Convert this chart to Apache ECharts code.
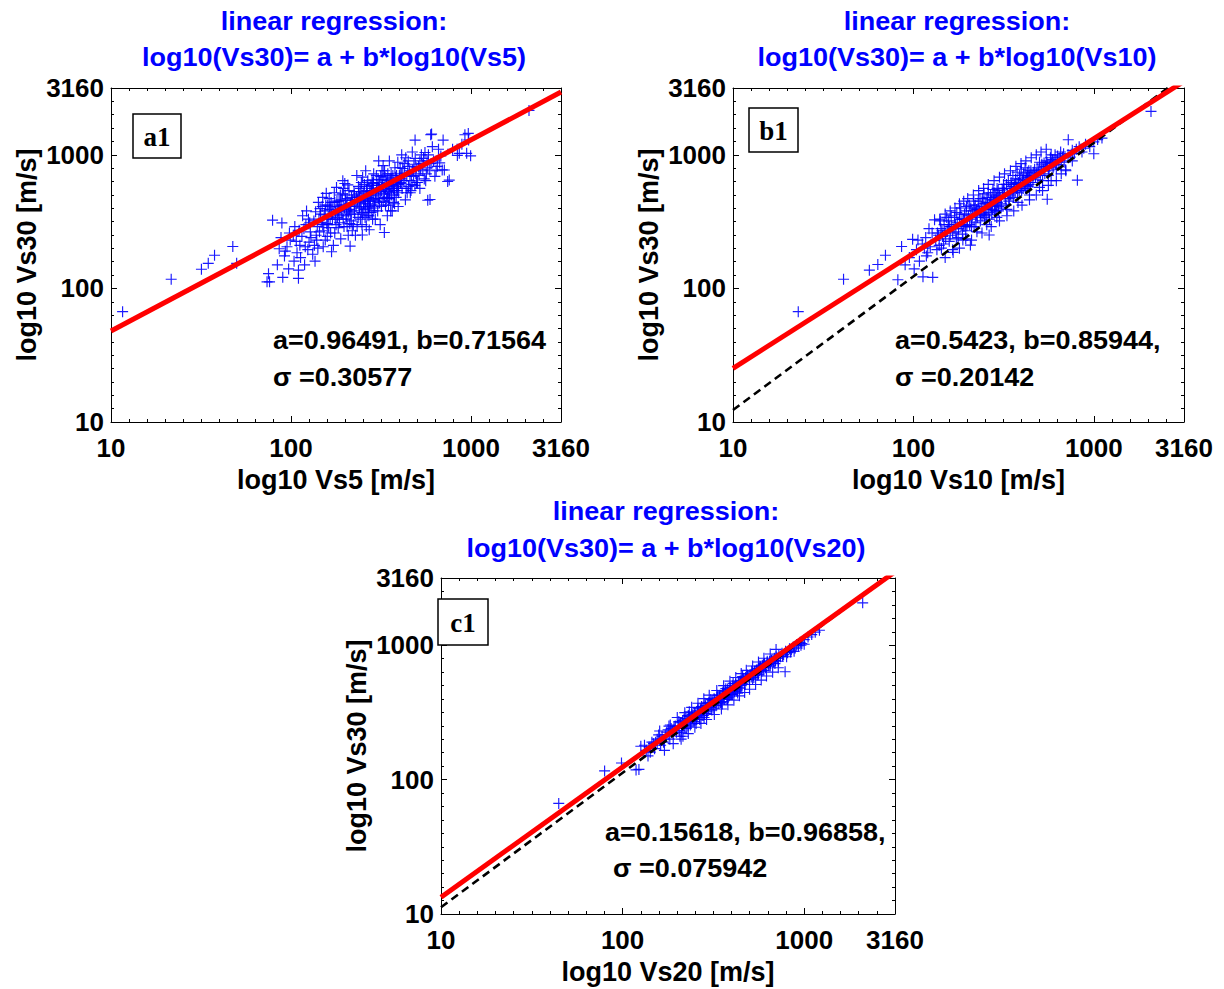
<!DOCTYPE html>
<html><head><meta charset="utf-8">
<script src="https://cdn.jsdelivr.net/npm/echarts@6/dist/echarts.min.js"></script>
<style>html,body{margin:0;padding:0;background:#fff}#c{width:1224px;height:989px}</style>
</head><body><div id="c"></div>
<script>
// ---------------- data ----------------
const tickValues = [1, 2, 3, 3.5];            // log10 positions of labelled ticks
const tickLabels = ['10', '100', '1000', '3160'];
const panelNames = ['a1', 'b1', 'c1'];
const xNames = ['log10 Vs5 [m/s]', 'log10 Vs10 [m/s]', 'log10 Vs20 [m/s]'];
const yName = 'log10 Vs30 [m/s]';
const titleLine1 = 'linear regression:';
const titleLine2 = ['log10(Vs30)= a + b*log10(Vs5)', 'log10(Vs30)= a + b*log10(Vs10)', 'log10(Vs30)= a + b*log10(Vs20)'];
const coefA = [0.96491, 0.5423, 0.15618];
const coefB = [0.71564, 0.85944, 0.96858];
const annotLine1 = ['a=0.96491, b=0.71564', 'a=0.5423, b=0.85944,', 'a=0.15618, b=0.96858,'];
const annotLine2 = ['σ =0.30577', 'σ =0.20142', 'σ =0.075942'];
const refLineOffset = [null, 0.09, 0.05];      // dashed reference line: log10(Vs30) = log10(Vsz) + offset

// [Vs5, Vs30] in m/s
const vs5Vs30 = [
[11.6,67],[21.6,117],[31.8,139],[34.7,154],[37.6,177],[47.5,206],[49.9,154],[73.6,112],
[76,112],[75,129],[79,324],[89,309],[90,121],[84,150],[92,175],[95,205],[97,140],[88,240],[98,260],[93,190],[99,230],[86,198],
[110,119],[110,137],[104,160],[108,185],[112,210],[115,245],[118,280],[121,300],[125,330],[103,250],[107,225],[113,170],[119,150],[124,195],[128,265],[116,350],[122,380],[126,222],[105,290],[129,240],[111,272],[120,205],[127,310],
[132,180],[135,210],[138,250],[140,290],[143,330],[146,360],[149,410],[152,270],[155,230],[158,305],[161,345],[164,390],[167,440],[134,320],[137,375],[141,200],[144,265],[147,312],[150,480],[153,355],[156,420],[159,245],[162,285],[165,330],[168,188],[136,160],[145,395],[157,515],[163,470],[139,230],[151,205],[166,260],[142,440],
[172,210],[175,260],[178,300],[181,340],[184,380],[187,420],[190,460],[193,510],[196,560],[199,610],[202,330],[205,290],[208,250],[211,390],[214,430],[217,480],[174,520],[180,450],[186,310],[192,360],[198,400],[204,350],[210,540],[216,320],[177,370],[183,285],[189,235],[195,330],[201,455],[207,595],[213,207],[219,270],[171,400],[179,570],[194,640],[209,372],[188,500],[203,410],[215,360],[176,330],[182,410],[197,290],[212,305],[168,360],
[222,300],[226,360],[230,410],[234,460],[238,510],[242,560],[246,620],[250,680],[254,390],[258,340],[262,290],[266,430],[270,480],[274,530],[278,590],[282,650],[286,380],[224,530],[228,250],[232,700],[236,340],[240,400],[244,450],[248,300],[252,520],[256,600],[260,760],[264,350],[268,400],[272,275],[276,450],[280,500],[284,330],[288,720],[225,420],[237,580],[247,370],[257,470],[263,540],[273,410],[283,560],[289,460],[231,480],[243,330],[253,430],[267,640],[279,370],[287,610],[233,290],[259,410],[249,251],[271,350],
[292,400],[296,450],[300,500],[305,560],[310,620],[315,690],[320,760],[325,830],[330,262],[335,420],[340,470],[345,530],[350,590],[355,650],[360,720],[365,380],[370,440],[375,500],[294,330],[303,380],[313,300],[323,600],[333,680],[343,350],[353,470],[363,560],[373,620],[378,800],[298,700],[308,470],[318,410],[328,510],[338,580],[348,420],[358,380],[368,700],[299,560],[319,540],[341,640],[361,500],[376,430],[307,900],[331,760],[352,900],[372,560],
[384,480],[390,540],[396,600],[402,660],[410,720],[418,790],[426,860],[434,950],[442,520],[450,580],[458,640],[466,700],[474,770],[482,850],[490,940],[498,620],[386,700],[394,410],[404,800],[414,560],[424,640],[432,460],[440,690],[448,900],[456,760],[464,540],[472,1050],[480,690],[488,590],[496,800],[392,880],[408,620],[428,730],[446,820],[470,600],[494,720],[412,1000],[436,560],[489,1288],[460,520],
[505,620],[515,700],[525,780],[535,860],[545,940],[555,1040],[565,720],[575,800],[592,463],[604,1429],[520,900],[540,760],[560,640],[580,1000],[600,860],[620,900],[640,760],[660,1100],[680,980],[700,1288],[511,820],[530,1000],[550,660],[570,900],[590,770],[610,1150],[630,690],[650,820],[670,870],[692,771],[742,631],[711,769],[757,647],[597,1413],[575,457],[520,560],
[840,990],[861,1026],[925,1413],[946,1026],[966,1445],[995,982],[970,1290],[790,1100],[890,1200],[2100,2150],
[155,380],[160,300],[170,330],[185,350],[195,420],[205,380],[215,410],[225,380],[235,440],[245,400],[255,460],[265,500],[275,420],[285,470],[295,520],[305,470],[315,530],[325,450],[335,550],[345,480],[355,560],[365,600],[375,540],[385,580],[395,520],[405,610],
[160,420],[175,440],[190,390],[200,500],[220,460],[240,490],[260,450],[280,540],[300,590],[320,650],[340,610],[360,660],[380,680],[400,700],[150,300],[165,410],[185,450],[205,470],[225,500],[245,530],[265,580],[285,620],[305,650],[325,700],[345,720],
[250,360],[270,370],[290,420],[310,440],[330,480],[350,520],[370,590],[390,640],[410,660]
];

// [Vs10, Vs30] in m/s
const vs10Vs30 = [
[23,67],[41,117],[57,137],[63.5,151],[70,177],
[86,206],[82,116],[99,233],[113,122],[128,121],[131,326],[90,150],[95,170],[104,195],[108,160],[112,215],[117,240],[120,185],[124,205],[127,260],[106,230],[118,175],[122,280],[101,140],[115,200],
[133,230],[136,260],[139,210],[142,280],[145,245],[148,300],[151,235],[154,270],[157,320],[160,250],[163,290],[166,186],[169,340],[172,265],[175,310],[178,280],[181,360],[184,300],[187,255],[190,330],[193,290],[196,380],[199,320],[135,195],[141,320],[147,215],[153,340],[159,290],[165,260],[171,300],[177,240],[183,400],[189,290],[195,270],[138,250],[144,270],[150,260],[156,300],[162,350],[168,280],[174,370],[180,330],[186,330],[192,360],[198,295],[143,200],[158,225],[173,235],[188,230],[197,410],
[202,350],[205,300],[207,211],[208,400],[211,330],[214,380],[217,290],[220,420],[223,360],[226,340],[229,450],[232,380],[235,320],[238,410],[241,470],[244,360],[247,400],[250,430],[253,350],[256,480],[259,400],[262,370],[263,251],[265,440],[268,500],[271,410],[274,390],[277,460],[280,520],[283,420],[286,380],[289,480],[292,440],[295,540],[298,410],[204,420],[210,290],[216,450],[222,310],[228,390],[234,470],[240,350],[246,510],[252,390],[258,440],[264,330],[270,460],[276,550],[282,380],[288,420],[294,470],[300,500],[212,360],[224,390],[236,360],[248,340],[260,520],[272,360],[284,490],[296,380],[219,400],[243,430],[267,420],[291,560],
[303,480],[308,430],[313,520],[318,560],[323,470],[328,600],[333,510],[338,450],[343,560],[348,620],[353,530],[358,480],[363,600],[368,660],[373,560],[378,520],[383,620],[388,700],[393,580],[398,540],[403,650],[408,720],[413,600],[418,560],[423,680],[428,740],[433,640],[438,600],[443,700],[448,760],[306,400],[316,600],[326,420],[336,640],[346,500],[356,700],[366,520],[376,740],[386,540],[396,780],[406,560],[416,800],[426,590],[436,760],[446,620],[320,520],[340,470],[360,560],[380,600],[400,600],[420,640],[440,680],[350,580],[390,660],[430,700],[311,545],[371,610],[431,580],
[455,700],[465,740],[475,680],[485,800],[495,760],[505,700],[515,850],[525,780],[535,720],[545,900],[552,465],[555,820],[565,760],[575,950],[585,860],[595,800],[610,1000],[625,900],[640,840],[655,1050],[670,960],[685,880],[698,772],[460,620],[480,720],[500,880],[520,640],[540,820],[560,700],[580,1000],[600,880],[620,780],[650,950],[680,1020],[470,780],[510,760],[550,880],[590,920],[630,980],[660,900],[490,650],[530,870],[570,820],[615,850],
[722,1296],[720,1000],[740,960],[760,1080],[780,1020],[811,646],[800,1100],[830,1150],[860,1050],[900,1200],[950,1150],[1000,1018],[1000,1250],[1110,1334],[1050,1300],[2075,2113],[760,900],[880,1120],
[140,330],[150,360],[160,380],[170,400],[180,430],[190,450],[200,470],[215,500],[230,540],[245,560],[260,600],[280,640],[300,680],[320,720],[345,760],[370,820],[395,860],[420,900],[450,950],[480,1000],[510,1050],[545,1100],
[150,170],[180,200],[210,230],[240,260],[270,290],[300,320],[330,350],[360,380],[400,420],[440,460],[480,500],[520,540],[560,590],[620,640],
[165,195],[195,235],[225,265],[255,300],[290,340],[330,390],[380,440],[440,500],[500,570],[580,640],[660,720],[700,760]
];

// [Vs20, Vs30] in m/s
const vs20Vs30 = [
[44.5,66.5],[79.6,116],[98.6,133],[118.6,118],[123,119],[126,177],[155,186],[207,210],
[135,165],[140,175],[145,190],[150,170],[155,200],[160,195],[165,210],[170,200],[175,225],[180,215],[185,240],[190,220],[195,250],[138,150],[148,185],[158,215],[168,190],[178,235],[188,230],[198,225],[142,160],[152,190],[162,180],[172,215],[182,200],[192,245],[132,180],[183,255],
[202,250],[205,232],[208,265],[211,240],[214,275],[217,255],[220,245],[223,285],[226,268],[229,250],[232,295],[235,275],[238,260],[241,305],[244,285],[247,270],[250,315],[253,300],[256,280],[259,325],[262,305],[265,290],[268,335],[271,315],[274,300],[277,345],[280,325],[283,310],[286,355],[289,335],[292,320],[295,365],[298,345],[204,270],[212,225],[218,282],[224,240],[230,300],[236,255],[242,290],[248,310],[254,262],[260,340],[266,280],[272,350],[278,300],[284,370],[290,310],[296,330],[215,210],[233,320],[257,295],[281,290],[299,375],
[303,370],[307,345],[311,385],[315,360],[319,400],[323,375],[327,355],[331,410],[335,390],[339,370],[343,425],[347,400],[351,380],[355,440],[359,415],[363,395],[367,455],[371,430],[375,405],[379,470],[383,445],[387,420],[391,485],[395,460],[399,435],[404,500],[409,475],[414,450],[419,515],[424,490],[429,465],[434,530],[439,505],[444,480],[449,545],[306,395],[318,340],[330,380],[342,410],[354,365],[366,430],[378,395],[390,450],[402,430],[414,490],[426,455],[438,480],[450,500],[310,330],[334,425],[358,450],[382,410],[406,520],[430,440],[446,520],[322,392],[346,375],[370,475],[394,430],[418,470],[442,540],
[455,520],[462,560],[469,540],[476,575],[483,555],[490,590],[497,570],[504,605],[511,580],[518,620],[525,595],[532,640],[539,610],[546,655],[553,630],[560,670],[567,645],[574,690],[581,660],[588,710],[595,680],[605,730],[615,700],[625,745],[635,720],[645,760],[655,735],[665,780],[675,750],[685,800],[695,770],[458,585],[472,510],[486,600],[500,560],[514,640],[528,575],[542,620],[556,600],[570,700],[584,640],[598,720],[612,680],[626,760],[640,700],[660,770],[680,760],[700,820],[520,560],[560,610],[600,650],[650,700],[690,730],
[710,800],[725,840],[740,820],[755,870],[770,850],[785,634],[790,900],[810,880],[830,940],[850,920],[870,970],[890,950],[910,1010],[930,990],[950,1050],[970,1030],[1000,1016],[1000,1100],[720,760],[760,830],[800,820],[840,890],[880,900],[960,1000],[1050,1150],[1100,1200],[1213,1292],[1150,1250],[2099,2065],
[160,230],[180,250],[200,290],[220,315],[240,345],[260,370],[280,400],[300,425],[330,460],[360,500],[390,540],[420,575],[450,615],[480,650],[520,700],[560,750],[600,800],[650,860],[700,930],
[170,165],[190,185],[210,200],[230,220],[250,245],[270,262],[290,280],[320,305],[350,335],[380,360],[410,390],[440,420],[470,445],[500,470],[540,510],[580,550],[620,590],[670,630],[720,680]
];
const panelData = [vs5Vs30, vs10Vs30, vs20Vs30];

// ---------------- layout / style ----------------
const AX_MIN = 1, AX_MAX = 3.5;
const grids = [
  {left: 111, top: 88, width: 450, height: 334},
  {left: 733, top: 88, width: 451, height: 334},
  {left: 441, top: 578, width: 454, height: 336}
];
const titleX = [334, 957, 666];
const titleY1 = [21, 21, 511];
const titleY2 = [57, 57, 548];
const annotX1 = [273, 895, 605];
const annotX2 = [273, 895, 613];
const annotY1 = [340, 340, 832];
const annotY2 = [377, 377, 868];
const boxes = [
  {x: 133, y: 114, w: 48, h: 44},
  {x: 749, y: 108, w: 49, h: 44},
  {x: 438, y: 599, w: 50, h: 46}
];
const FONT = '"Liberation Sans", Arial, Helvetica, sans-serif';
const FS = 25;
const WIDEN = 1.08;
const majorTicks = [1, 2, 3];
const minorTicks = [];
for (let k = 11; k < 35; k++) { if (k % 10 !== 0) minorTicks.push(k / 10); }

function labelFor(v) {
  for (let i = 0; i < tickValues.length; i++) if (Math.abs(tickValues[i] - v) < 1e-6) return tickLabels[i];
  return '';
}

const xAxes = [], yAxes = [], series = [], graphics = [];
grids.forEach((g, gi) => {
  const base = {gridIndex: gi, type: 'value', min: AX_MIN, max: AX_MAX, splitLine: {show: false},
                axisLabel: {show: false}, axisPointer: {show: false}};
  const tickStyle = {color: '#000', width: 1};
  const mainLabel = {show: true, customValues: tickValues, formatter: labelFor, color: '#000',
                     fontFamily: FONT, fontWeight: 'bold', fontSize: 26};
  const nameStyle = {color: '#000', fontFamily: FONT, fontWeight: 'bold', fontSize: 27};
  xAxes.push(Object.assign({}, base, {position: 'bottom',
    axisLine: {show: true, onZero: false, lineStyle: tickStyle},
    axisTick: {show: true, inside: true, length: 6, customValues: majorTicks, lineStyle: tickStyle},
    axisLabel: Object.assign({}, mainLabel, {margin: 13}),
    name: xNames[gi], nameLocation: 'middle', nameGap: 44, nameTextStyle: nameStyle}));
  xAxes.push(Object.assign({}, base, {position: 'bottom', axisLine: {show: false, onZero: false},
    axisTick: {show: true, inside: true, length: 3, customValues: minorTicks, lineStyle: tickStyle}}));
  xAxes.push(Object.assign({}, base, {position: 'top', axisLine: {show: true, onZero: false, lineStyle: tickStyle},
    axisTick: {show: true, inside: true, length: 6, customValues: majorTicks, lineStyle: tickStyle}}));
  xAxes.push(Object.assign({}, base, {position: 'top', axisLine: {show: false, onZero: false},
    axisTick: {show: true, inside: true, length: 3, customValues: minorTicks, lineStyle: tickStyle}}));
  yAxes.push(Object.assign({}, base, {position: 'left',
    axisLine: {show: true, onZero: false, lineStyle: tickStyle},
    axisTick: {show: true, inside: true, length: 6, customValues: majorTicks, lineStyle: tickStyle},
    axisLabel: Object.assign({}, mainLabel, {margin: 7}),
    name: yName, nameLocation: 'middle', nameRotate: 90, nameGap: 71, nameTextStyle: nameStyle}));
  yAxes.push(Object.assign({}, base, {position: 'left', axisLine: {show: false, onZero: false},
    axisTick: {show: true, inside: true, length: 3, customValues: minorTicks, lineStyle: tickStyle}}));
  yAxes.push(Object.assign({}, base, {position: 'right', axisLine: {show: true, onZero: false, lineStyle: tickStyle},
    axisTick: {show: true, inside: true, length: 6, customValues: majorTicks, lineStyle: tickStyle}}));
  yAxes.push(Object.assign({}, base, {position: 'right', axisLine: {show: false, onZero: false},
    axisTick: {show: true, inside: true, length: 3, customValues: minorTicks, lineStyle: tickStyle}}));

  const xi = gi * 4, yi = gi * 4;
  series.push({type: 'scatter', xAxisIndex: xi, yAxisIndex: yi, silent: true,
    symbol: 'path://M0,5L10,5M5,0L5,10', symbolSize: 11,
    itemStyle: {color: 'rgba(0,0,0,0)', borderColor: 'rgba(0,0,255,0.9)', borderWidth: 1.15, opacity: 1},
    data: panelData[gi].map(p => [Math.log10(p[0]), Math.log10(p[1])]), z: 2});
  if (refLineOffset[gi] !== null) {
    const o = refLineOffset[gi];
    series.push({type: 'line', xAxisIndex: xi, yAxisIndex: yi, silent: true, symbol: 'none', clip: true,
      lineStyle: {color: '#000', width: 2.6, type: [8, 5]},
      data: [[AX_MIN, AX_MIN + o], [AX_MAX, AX_MAX + o]], z: 3});
  }
  const a = coefA[gi], b = coefB[gi];
  series.push({type: 'line', xAxisIndex: xi, yAxisIndex: yi, silent: true, symbol: 'none', clip: true,
    lineStyle: {color: '#ff0000', width: 5},
    data: [[AX_MIN, a + b * AX_MIN], [AX_MAX, a + b * AX_MAX]], z: 4});

  const tFont = 'bold ' + FS + 'px ' + FONT;
  graphics.push({type: 'text', x: titleX[gi], y: titleY1[gi], scaleX: WIDEN, z: 100,
    style: {text: titleLine1, fill: '#0000ff', font: tFont, align: 'center', verticalAlign: 'middle'}});
  graphics.push({type: 'text', x: titleX[gi], y: titleY2[gi], scaleX: WIDEN, z: 100,
    style: {text: titleLine2[gi], fill: '#0000ff', font: tFont, align: 'center', verticalAlign: 'middle'}});
  graphics.push({type: 'text', x: annotX1[gi], y: annotY1[gi], scaleX: WIDEN, z: 100,
    style: {text: annotLine1[gi], fill: '#000', font: tFont, align: 'left', verticalAlign: 'middle'}});
  graphics.push({type: 'text', x: annotX2[gi], y: annotY2[gi], scaleX: WIDEN, z: 100,
    style: {text: annotLine2[gi], fill: '#000', font: tFont, align: 'left', verticalAlign: 'middle'}});
  const bx = boxes[gi];
  graphics.push({type: 'rect', z: 100, shape: {x: bx.x, y: bx.y, width: bx.w, height: bx.h},
    style: {fill: '#fff', stroke: '#000', lineWidth: 1.5}});
  graphics.push({type: 'text', z: 101, x: bx.x + bx.w / 2, y: bx.y + bx.h / 2 + 1,
    style: {text: panelNames[gi], fill: '#000', font: 'bold 27px "Liberation Serif", "Times New Roman", serif', align: 'center', verticalAlign: 'middle'}});
});

const chart = echarts.init(document.getElementById('c'), null, {renderer: 'svg'});
chart.setOption({
  animation: false,
  backgroundColor: '#ffffff',
  grid: grids.map(g => Object.assign({containLabel: false}, g)),
  xAxis: xAxes,
  yAxis: yAxes,
  series: series,
  graphic: graphics
});
</script>
</body></html>
